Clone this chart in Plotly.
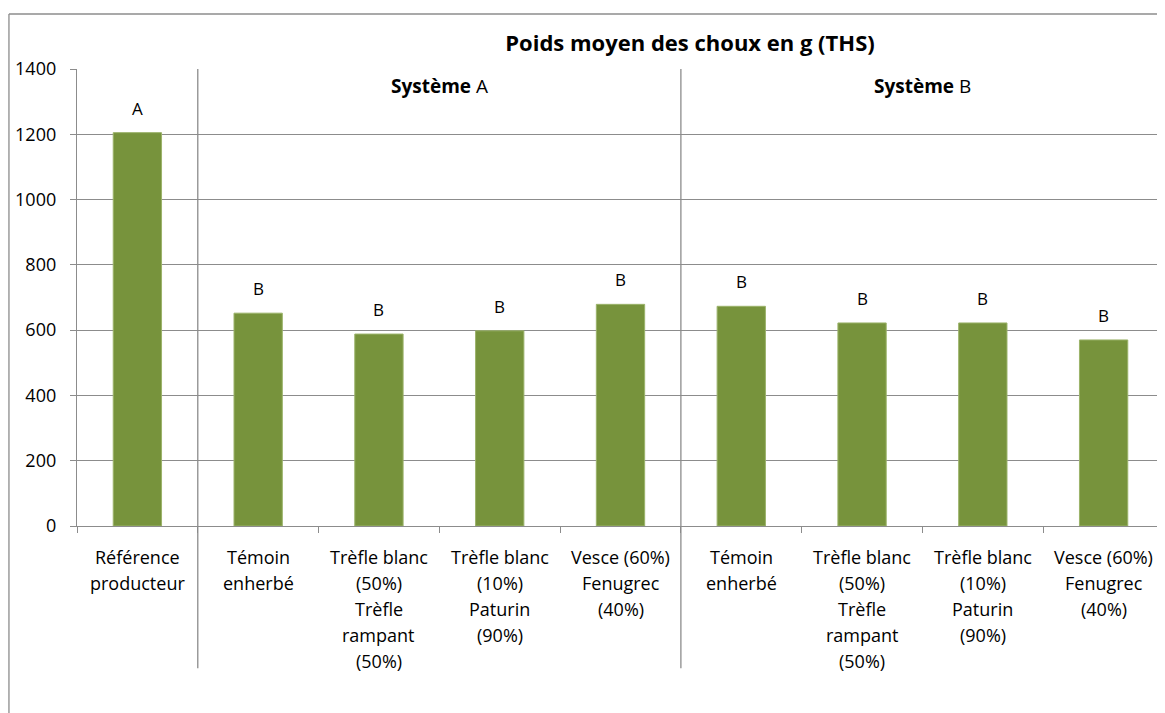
import plotly.graph_objects as go

categories = ["Référence\nproducteur", "Témoin\nenherbé", "Trèfle blanc\n(50%)\nTrèfle\nrampant\n(50%)",
              "Trèfle blanc\n(10%)\nPaturin\n(90%)", "Vesce (60%)\nFenugrec\n(40%)",
              "Témoin\nenherbé", "Trèfle blanc\n(50%)\nTrèfle\nrampant\n(50%)",
              "Trèfle blanc\n(10%)\nPaturin\n(90%)", "Vesce (60%)\nFenugrec\n(40%)"]
values = [1205, 652, 588, 598, 679, 673, 622, 622, 570]
letters = ["A", "B", "B", "B", "B", "B", "B", "B", "B"]
groups = ["<b>Système</b> A", "<b>Système</b> B"]
group_centers = [2.5, 6.5]
separators = [0.5, 4.5]
y_ticks = [0, 200, 400, 600, 800, 1000, 1200, 1400]

FONT = "Open Sans"
GRID = "#8c8c8c"
x_idx = list(range(len(categories)))

fig = go.Figure()
fig.add_trace(go.Bar(x=x_idx, y=values, marker=dict(color="#77933C", line=dict(color="#9bb36a", width=1)),
                     width=0.4, hoverinfo="skip"))

# letters above bars
for i, (v, l) in enumerate(zip(values, letters)):
    fig.add_annotation(x=i, y=v, text=l, showarrow=False, yanchor="bottom", yshift=11,
                       font=dict(family=FONT, size=17, color="#000"))

# category labels line by line
for i, lab in enumerate(categories):
    for j, line in enumerate(lab.split("\n")):
        fig.add_annotation(x=i, y=0, text=line, showarrow=False, yanchor="middle",
                           yshift=-(31 + 26 * j), font=dict(family=FONT, size=18, color="#000"))

# group titles
for g, c in zip(groups, group_centers):
    fig.add_annotation(x=c, y=1348, text=g, showarrow=False, yanchor="middle",
                       font=dict(family=FONT, size=19, color="#000"))

# separators
for s in separators:
    fig.add_shape(type="line", x0=s, x1=s, xref="x", y0=1400, y1=0, yref="y",
                  line=dict(color=GRID, width=1.3))
    fig.add_shape(type="line", x0=s, x1=s, xref="x", y0=0, y1=-0.311, yref="paper",
                  line=dict(color=GRID, width=1.3))

# outer chart border (left and top)
fig.add_shape(type="line", xref="paper", yref="paper", x0=-0.0626, x1=-0.0626, y0=1.1204, y1=-0.5,
              line=dict(color=GRID, width=1.3))
fig.add_shape(type="line", xref="paper", yref="paper", x0=-0.0626, x1=1.1, y0=1.1204, y1=1.1204,
              line=dict(color=GRID, width=1.3))

W, H = 1157, 705  # page has 8px body margin
fig.update_layout(
    width=W, height=H,
    margin=dict(l=69, r=1, t=61, b=187),
    paper_bgcolor="white", plot_bgcolor="white",
    showlegend=False,
    bargap=0.6,
    title=dict(text="<b>Poids moyen des choux en g (THS)</b>", x=682 / W, xanchor="center",
               y=1 - 35 / H, yanchor="middle", font=dict(family=FONT, size=22, color="#000")),
    xaxis=dict(type="linear", range=[-0.5, len(categories) - 0.5], showgrid=False,
               showticklabels=False, tickmode="array", tickvals=[i - 0.5 for i in range(len(categories) + 1)],
               ticks="outside", ticklen=6, tickcolor=GRID, showline=True, linecolor=GRID, linewidth=1.3,
               zeroline=False, fixedrange=True),
    yaxis=dict(range=[0, 1400], tickvals=y_ticks, showgrid=True, gridcolor=GRID, gridwidth=1.3,
               ticks="outside", ticklen=6, tickcolor=GRID, showline=True, linecolor=GRID, linewidth=1.3,
               ticklabelstandoff=10,
               zeroline=False, tickfont=dict(family=FONT, size=18, color="#000"), fixedrange=True),
)
fig.write_html("out.html")
